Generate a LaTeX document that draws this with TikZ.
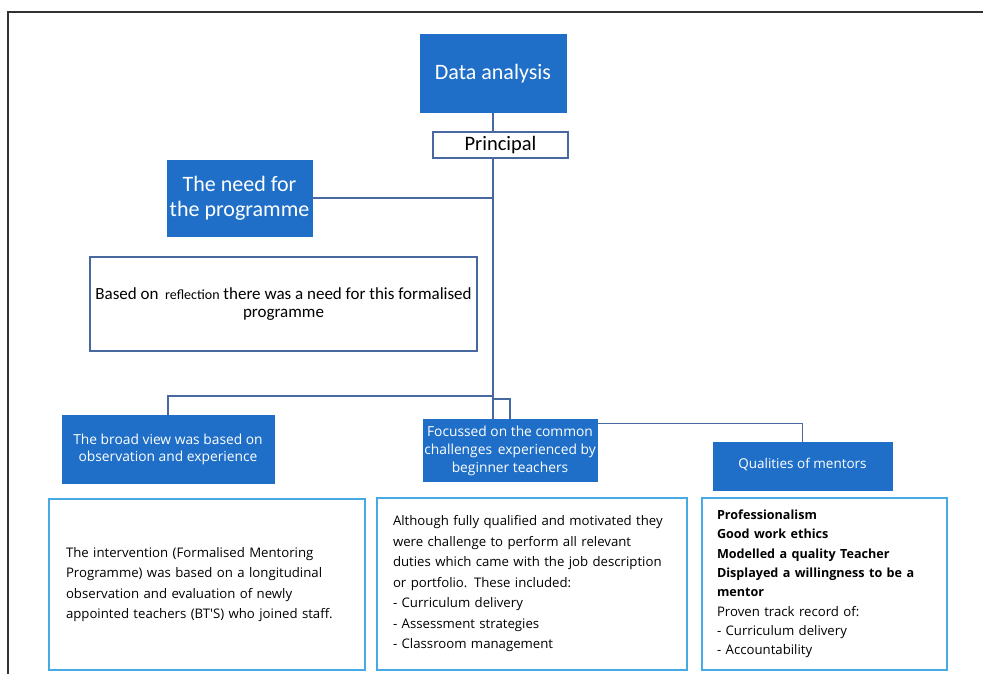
\documentclass[tikz,border=0pt]{standalone}
\usepackage{fontspec}
\setmainfont{Carlito}
\newfontfamily\segoe{Open Sans}
\definecolor{boxblue}{RGB}{31,111,200}
\definecolor{linkblue}{RGB}{72,104,160}
\definecolor{edgeblue}{RGB}{70,170,228}
\definecolor{framegray}{RGB}{50,50,50}
\newcommand\strongline[1]{\textbf{\fontsize{12.6}{19.3}\selectfont #1}}

\begin{document}
\begin{tikzpicture}[x=1pt,y=-1pt,
    head/.style={fill=boxblue, draw=boxblue, text=white, align=center, inner sep=0pt},
    plain/.style={fill=white, draw=linkblue, line width=1.1pt, align=center, inner sep=0pt},
    detail/.style={draw=edgeblue, line width=1.6pt, align=left, inner ysep=0pt, font={\segoe\fontsize{13.2}{20.5}\selectfont}},
    link/.style={draw=linkblue, line width=1.1pt}]
    \useasboundingbox (0,0) rectangle (983,674);
    \draw[framegray, line width=1.5pt] (8,674) -- (8,12) -- (983,12);

    \node[head, minimum width=146pt, minimum height=78pt, font={\fontsize{22}{26}\selectfont}] (data) at (493,73.5) {Data analysis};
    \node[plain, minimum width=135pt, minimum height=26pt, font={\fontsize{20.5}{24}\selectfont}] (principal) at (500.5,145) {Principal};
    \node[head, minimum width=145pt, minimum height=76pt, font={\fontsize{22}{25}\selectfont}] (need) at (239.5,198) {The need for\\the programme};
    \node[plain, minimum width=387pt, minimum height=94pt, font={\fontsize{17}{18}\selectfont}] (reflect) at (283.5,304)
        {Based on \,{\fontsize{14}{18}\selectfont reflection} there was a need for this formalised\\programme};

    \coordinate (split) at (493,396);
    \coordinate (fork) at (493,399);

    \node[head, minimum width=212pt, minimum height=68pt, font={\segoe\fontsize{13.8}{17.5}\selectfont}] (broad) at (168,449.5)
        {The broad view was based on\\observation and experience};
    \node[head, minimum width=174pt, minimum height=62pt, font={\segoe\fontsize{13.8}{18}\selectfont}] (focus) at (510,450.5)
        {Focussed on the common\\challenges\, experienced by\\beginner teachers};
    \node[head, minimum width=179pt, minimum height=48pt, font={\segoe\fontsize{13.5}{18}\selectfont}] (qual) at (802.5,466) {\raisebox{6pt}{Qualities of mentors}};

    \node[detail, text width=282pt, inner xsep=17pt, minimum height=171pt] (interv) at (207,584.5)
        {The intervention (Formalised Mentoring\\Programme) was based on a longitudinal\\observation and evaluation of newly\\appointed teachers (BT'S) who joined staff.};
    \node[detail, text width=278pt, inner xsep=16pt, minimum height=172pt] (challenge) at (532,584)
        {Although fully qualified and motivated they\\were challenge to perform all relevant\\duties which came with the job description\\or portfolio. These included:\\- Curriculum delivery\\- Assessment strategies\\- Classroom management};
    \node[detail, text width=215pt, inner xsep=15pt, minimum height=172pt, font={\segoe\fontsize{13.2}{19.3}\selectfont}] (mentor) at (824.5,584)
        {\strongline{Professionalism}\\\strongline{Good work ethics}\\\strongline{Modelled a quality Teacher}\\\strongline{Displayed a willingness to be a}\\\strongline{mentor}\\Proven track record of:\\- Curriculum delivery\\- Accountability};

    \draw[link] (data.south) -- (data.south |- principal.north);
    \draw[link] (data.south |- principal.south) -- (data.south |- focus.north);
    \draw[link] (need.east) -- (need.east -| data.south);
    \draw[link] (split) -| (broad.north);
    \draw[link] (fork) -| (focus.north);
    \draw[link] ([xshift=1pt,yshift=-4pt]focus.north east) -| (qual.north);
\end{tikzpicture}
\end{document}
